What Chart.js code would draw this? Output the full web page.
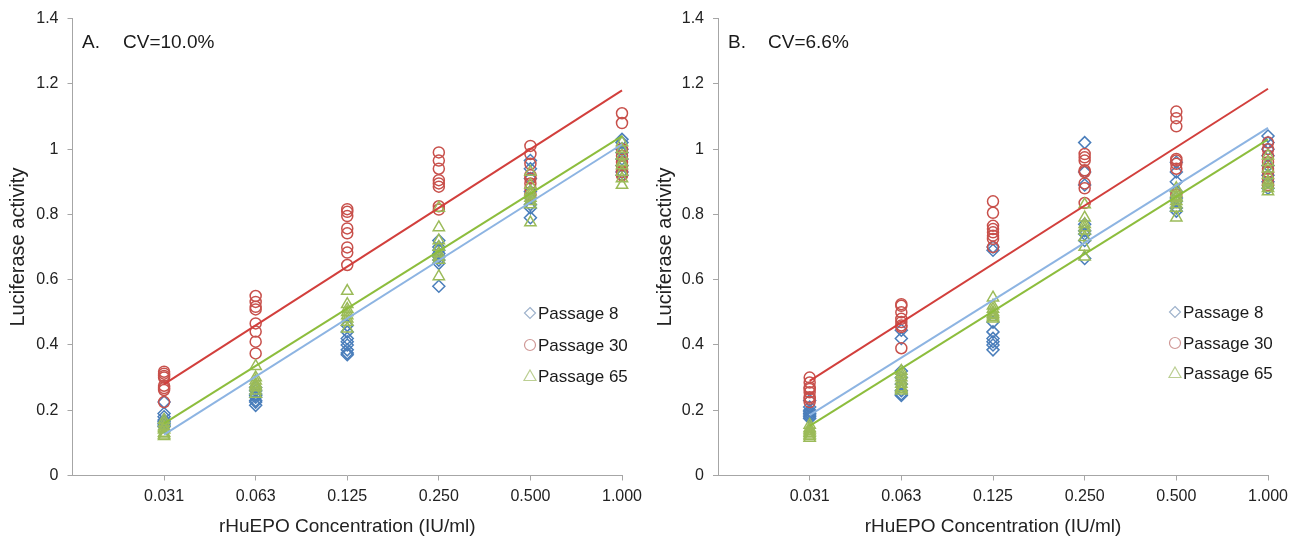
<!DOCTYPE html>
<html>
<head>
<meta charset="utf-8">
<script src="https://cdn.jsdelivr.net/npm/chart.js@4.4.1/dist/chart.umd.min.js"></script>
<style>
  body { margin: 0; background: #fff; }
  #wrap { position: relative; width: 1300px; height: 540px; }
  canvas { position: absolute; top: 0; }
  #chartA { left: 0; }
  #chartB { left: 650px; }
</style>
</head>
<body>
<div id="wrap">
  <canvas id="chartA" width="650" height="540"></canvas>
  <canvas id="chartB" width="650" height="540"></canvas>
</div>
<script>
// concentrations (category positions 1..6)
const concLabels = ['0.031', '0.063', '0.125', '0.250', '0.500', '1.000'];
const seriesNames = ['Passage 8', 'Passage 30', 'Passage 65'];

// Panel A - replicate readings per concentration
const a_p8 = [
  [0.225, 0.19, 0.18, 0.17, 0.165, 0.16, 0.155, 0.15],
  [0.27, 0.26, 0.25, 0.245, 0.24, 0.23, 0.225, 0.215],
  [0.46, 0.44, 0.42, 0.41, 0.40, 0.385, 0.375, 0.37],
  [0.72, 0.70, 0.69, 0.68, 0.67, 0.66, 0.65, 0.58],
  [0.965, 0.94, 0.91, 0.87, 0.85, 0.83, 0.82, 0.79],
  [1.03, 1.02, 1.0, 0.99, 0.97, 0.95, 0.93, 0.92]
];
const a_p30 = [
  [0.318, 0.312, 0.305, 0.30, 0.275, 0.268, 0.262, 0.225],
  [0.55, 0.532, 0.517, 0.509, 0.466, 0.441, 0.41, 0.374],
  [0.816, 0.808, 0.795, 0.757, 0.742, 0.699, 0.683, 0.645],
  [0.99, 0.965, 0.94, 0.905, 0.895, 0.885, 0.825, 0.815],
  [1.01, 0.985, 0.955, 0.92, 0.91, 0.895, 0.88, 0.86],
  [1.11, 1.08, 1.0, 0.98, 0.96, 0.95, 0.93, 0.92]
];
const a_p65 = [
  [0.17, 0.16, 0.15, 0.145, 0.14, 0.13, 0.125, 0.12],
  [0.335, 0.30, 0.29, 0.28, 0.275, 0.27, 0.26, 0.25],
  [0.565, 0.525, 0.51, 0.50, 0.49, 0.48, 0.47, 0.45],
  [0.82, 0.76, 0.72, 0.70, 0.68, 0.67, 0.66, 0.61],
  [0.93, 0.89, 0.87, 0.86, 0.85, 0.84, 0.83, 0.775],
  [1.02, 1.0, 0.98, 0.96, 0.95, 0.93, 0.91, 0.89]
];
// trendline ends (at 0.031 and 1.000)
const a_fit8 = [0.125, 1.015];
const a_fit30 = [0.28, 1.18];
const a_fit65 = [0.16, 1.04];

// Panel B
const b_p8 = [
  [0.23, 0.21, 0.20, 0.195, 0.19, 0.185, 0.18, 0.175],
  [0.445, 0.42, 0.32, 0.30, 0.28, 0.26, 0.25, 0.245],
  [0.70, 0.69, 0.47, 0.44, 0.42, 0.41, 0.40, 0.385],
  [1.02, 0.93, 0.89, 0.77, 0.75, 0.74, 0.72, 0.665],
  [0.96, 0.93, 0.90, 0.87, 0.85, 0.84, 0.82, 0.81],
  [1.04, 1.02, 1.0, 0.98, 0.95, 0.92, 0.90, 0.88]
];
const b_p30 = [
  [0.30, 0.285, 0.27, 0.265, 0.255, 0.24, 0.235, 0.225],
  [0.525, 0.52, 0.50, 0.48, 0.47, 0.46, 0.455, 0.39],
  [0.84, 0.805, 0.765, 0.755, 0.745, 0.735, 0.725, 0.70],
  [0.985, 0.975, 0.965, 0.935, 0.93, 0.895, 0.88, 0.835],
  [1.115, 1.095, 1.07, 0.97, 0.965, 0.955, 0.94, 0.86],
  [1.02, 1.0, 0.98, 0.96, 0.94, 0.93, 0.91, 0.89]
];
const b_p65 = [
  [0.155, 0.145, 0.14, 0.135, 0.13, 0.125, 0.12, 0.115],
  [0.32, 0.31, 0.30, 0.29, 0.28, 0.27, 0.265, 0.26],
  [0.545, 0.52, 0.51, 0.50, 0.495, 0.49, 0.485, 0.48],
  [0.83, 0.79, 0.77, 0.76, 0.75, 0.73, 0.70, 0.67],
  [0.88, 0.865, 0.855, 0.85, 0.84, 0.83, 0.82, 0.79],
  [0.98, 0.96, 0.94, 0.92, 0.90, 0.89, 0.88, 0.87]
];
const b_fit8 = [0.185, 1.065];
const b_fit30 = [0.29, 1.185];
const b_fit65 = [0.152, 1.03];

const FONT = '"Liberation Sans", Arial, sans-serif';
const AXIS_GREY = '#a6a6a6';

const markerStyle = [
  { style: 'rectRot', radius: 6, color: '#4a7ebb', legend: '#9fb3cc' },
  { style: 'circle', radius: 5.5, color: '#c8504b', legend: '#cf9896' },
  { style: 'triangle', radius: 6.5, color: '#9bbb59', legend: '#bccf93' }
];
const lineColors = ['#8db4e2', '#d23f3c', '#8dbd3d'];

function toPoints(rows) {
  return rows.flatMap((vals, i) => vals.map(v => ({ x: i + 1, y: v })));
}

function buildDatasets(groups, fits) {
  const sets = [];
  groups.forEach((rows, k) => {
    const m = markerStyle[k];
    sets.push({
      label: seriesNames[k],
      data: toPoints(rows),
      showLine: false,
      clip: false,
      pointStyle: m.style,
      pointRadius: m.radius,
      pointBorderColor: m.color,
      pointBackgroundColor: 'rgba(0,0,0,0)',
      pointBorderWidth: 1.5,
      order: 4 - k
    });
  });
  fits.forEach((f, k) => {
    sets.push({
      label: seriesNames[k] + ' fit',
      data: [{ x: 1, y: f[0] }, { x: 6, y: f[1] }],
      showLine: true,
      clip: false,
      borderColor: lineColors[k],
      borderWidth: 2,
      pointRadius: 0,
      order: 0
    });
  });
  return sets;
}

// legend inside plot + panel caption
const panelText = {
  id: 'panelText',
  afterDraw(chart, args, opts) {
    const ctx = chart.ctx;
    ctx.save();
    ctx.fillStyle = '#1a1a1a';
    ctx.textBaseline = 'middle';
    ctx.font = '19px ' + FONT;
    ctx.fillText(opts.letter, opts.capX, 43);
    ctx.fillText(opts.cv, opts.cvX, 43);

    ctx.font = '17px ' + FONT;
    seriesNames.forEach((name, k) => {
      const y = opts.legY[k];
      const x = opts.legX;
      const m = markerStyle[k];
      ctx.strokeStyle = m.legend;
      ctx.lineWidth = 1.2;
      ctx.beginPath();
      if (m.style === 'circle') {
        ctx.arc(x, y, 5.5, 0, Math.PI * 2);
      } else if (m.style === 'rectRot') {
        ctx.moveTo(x, y - 5.5); ctx.lineTo(x + 5.5, y); ctx.lineTo(x, y + 5.5); ctx.lineTo(x - 5.5, y); ctx.closePath();
      } else {
        ctx.moveTo(x, y - 6); ctx.lineTo(x + 6, y + 4.5); ctx.lineTo(x - 6, y + 4.5); ctx.closePath();
      }
      ctx.stroke();
      ctx.fillText(name, x + 8, y + 1);
    });
    ctx.restore();
  }
};

function makeChart(id, groups, fits, cfg) {
  return new Chart(document.getElementById(id), {
    type: 'scatter',
    data: { datasets: buildDatasets(groups, fits) },
    plugins: [panelText],
    options: {
      responsive: false,
      animation: false,
      devicePixelRatio: 1,
      layout: { padding: { left: 0, top: 18.5, right: cfg.padRight, bottom: 0 } },
      plugins: {
        legend: { display: false },
        tooltip: { enabled: false },
        panelText: cfg.text
      },
      scales: {
        x: {
          type: 'linear',
          min: 0,
          max: 6,
          afterFit: s => { s.height = 64.5; },
          afterBuildTicks: s => { s.ticks = [0, 1, 2, 3, 4, 5, 6].map(v => ({ value: v })); },
          border: { color: AXIS_GREY, width: 1 },
          grid: {
            drawOnChartArea: false,
            drawTicks: true,
            tickLength: 5,
            tickColor: c => (c.tick && c.tick.value === 0) ? 'rgba(0,0,0,0)' : AXIS_GREY
          },
          ticks: {
            autoSkip: false,
            maxRotation: 0,
            padding: 6,
            color: '#222',
            font: { family: FONT, size: 16 },
            callback: v => (v >= 1 ? concLabels[v - 1] : '')
          },
          title: {
            display: true,
            text: 'rHuEPO Concentration (IU/ml)',
            color: '#222',
            font: { family: FONT, size: 19 },
            padding: { top: 0, bottom: 2 }
          }
        },
        y: {
          min: 0,
          max: 1.4,
          afterFit: s => { s.width = cfg.axisLeft; },
          border: { color: AXIS_GREY, width: 1 },
          grid: {
            drawOnChartArea: false,
            drawTicks: true,
            tickLength: 5,
            tickColor: AXIS_GREY
          },
          ticks: {
            stepSize: 0.2,
            padding: 9,
            color: '#222',
            font: { family: FONT, size: 16 },
            callback: v => String(Number(v.toFixed(1)))
          },
          title: {
            display: true,
            text: 'Luciferase activity',
            color: '#222',
            font: { family: FONT, size: 20 },
            padding: { top: cfg.titlePad, bottom: 0 }
          }
        }
      }
    }
  });
}

makeChart('chartA', [a_p8, a_p30, a_p65], [a_fit8, a_fit30, a_fit65], {
  axisLeft: 72.5, padRight: 28, titlePad: 6,
  text: { letter: 'A.', cv: 'CV=10.0%', capX: 82, cvX: 123, legX: 530, legY: [313, 345, 376] }
});
makeChart('chartB', [b_p8, b_p30, b_p65], [b_fit8, b_fit30, b_fit65], {
  axisLeft: 68, padRight: 32, titlePad: 3,
  text: { letter: 'B.', cv: 'CV=6.6%', capX: 78, cvX: 118, legX: 525, legY: [312, 343, 373] }
});
</script>
</body>
</html>
